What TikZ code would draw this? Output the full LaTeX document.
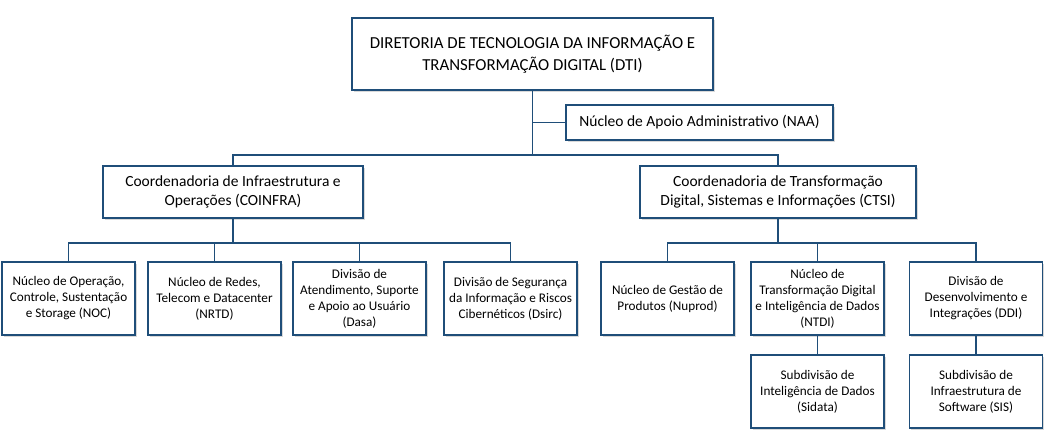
\documentclass[tikz,border=0pt]{standalone}
\usepackage{fontspec}
\setmainfont{Carlito}
\usetikzlibrary{shadows}
\definecolor{boxblue}{HTML}{1F4E79}
\tikzset{
  unit/.style={draw=boxblue,line width=1.6pt,fill=white,align=center,font=\fontsize{15.5}{19}\selectfont,
    inner sep=2pt,drop shadow={shadow xshift=1.5pt,shadow yshift=-1.5pt,opacity=0.3}},
  small/.style={unit,font=\fontsize{13.2}{16}\selectfont,minimum width=133,minimum height=73},
  link/.style={draw=boxblue,line width=1.2pt}
}
\begin{document}
\begin{tikzpicture}[x=1pt,y=-1pt]
  \useasboundingbox (0,0) rectangle (1047,445);
  % direcao
  \node[unit,minimum width=361,minimum height=72,font=\fontsize{16.8}{22}\selectfont] (DTI) at (532.5,54)
    {DIRETORIA DE TECNOLOGIA DA INFORMAÇÃO E\\TRANSFORMAÇÃO DIGITAL (DTI)};
  \node[unit,minimum width=267,minimum height=35] (NAA) at (699.5,122.5) {Núcleo de Apoio Administrativo (NAA)};
  % coordenadorias
  \node[unit,minimum width=260,minimum height=52] (COINFRA) at (233,192)
    {Coordenadoria de Infraestrutura e\\Operações (COINFRA)};
  \node[unit,minimum width=276,minimum height=52] (CTSI) at (778,192)
    {Coordenadoria de Transformação\\Digital, Sistemas e Informações (CTSI)};
  % nucleos e divisoes
  \begin{scope}[every node/.style={small}]
    \node (NOC) at (68.5,298.5) {Núcleo de Operação,\\Controle, Sustentação\\e Storage (NOC)};
    \node (NRTD) at (214.5,298.5) {Núcleo de Redes,\\Telecom e Datacenter\\(NRTD)};
    \node (Dasa) at (359.5,298.5) {Divisão de\\Atendimento, Suporte\\e Apoio ao Usuário\\(Dasa)};
    \node (Dsirc) at (510.5,298.5) {Divisão de Segurança\\da Informação e Riscos\\Cibernéticos (Dsirc)};
    \node (Nuprod) at (667.5,298.5) {Núcleo de Gestão de\\Produtos (Nuprod)};
    \node (NTDI) at (817.5,298.5) {Núcleo de\\Transformação Digital\\e Inteligência de Dados\\(NTDI)};
    \node (DDI) at (976,298.5) {Divisão de\\Desenvolvimento e\\Integrações (DDI)};
    \node (Sidata) at (817.5,391.5) {Subdivisão de\\Inteligência de Dados\\(Sidata)};
    \node (SIS) at (976,391.5) {Subdivisão de\\Infraestrutura de\\Software (SIS)};
  \end{scope}
  \coordinate (top) at (532.5,155);
  \coordinate (left) at (233,243);
  \coordinate (right) at (778,243);
  \draw[link] (DTI) -- (top);
  \draw[link] (DTI.south |- NAA) -- (NAA);
  \draw[link] (top) -| (COINFRA);
  \draw[link] (top) -| (CTSI);
  \draw[link] (COINFRA) -- (left);
  \draw[link] (left) -| (NOC);
  \draw[link] (left) -| (NRTD);
  \draw[link] (left) -| (Dasa);
  \draw[link] (left) -| (Dsirc);
  \draw[link] (CTSI) -- (right);
  \draw[link] (right) -| (Nuprod);
  \draw[link] (right) -| (NTDI);
  \draw[link] (right) -| (DDI);
  \draw[link] (NTDI) -- (Sidata);
  \draw[link] (DDI) -- (SIS);
\end{tikzpicture}
\end{document}
